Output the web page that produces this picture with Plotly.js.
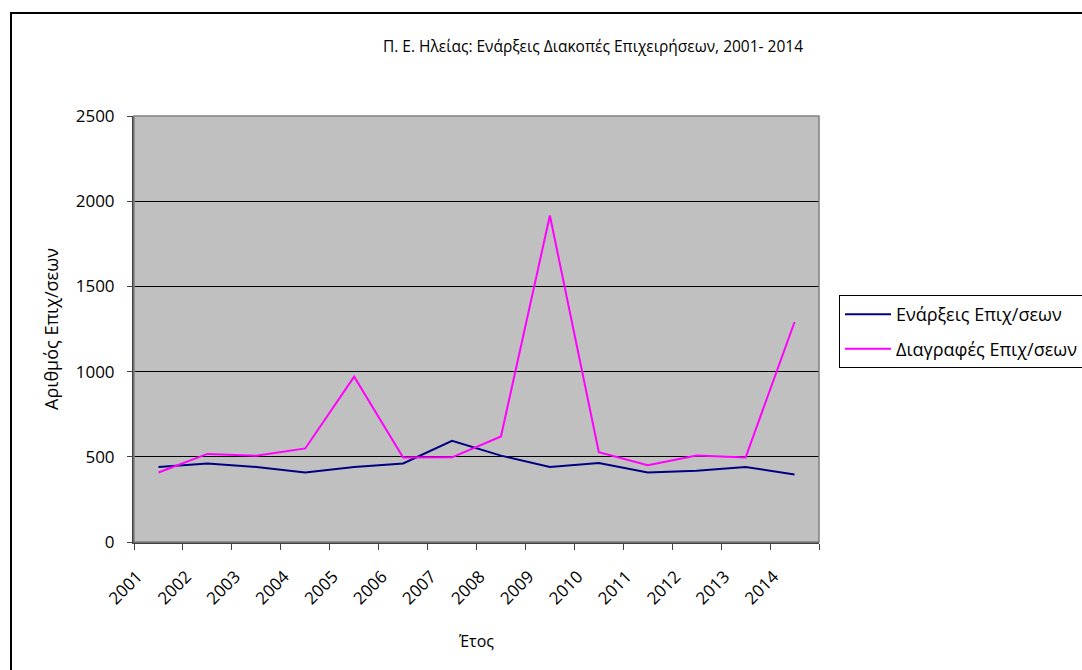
<!DOCTYPE html>
<html>
<head>
<meta charset="utf-8">
<script src="https://cdn.plot.ly/plotly-3.0.1.min.js"></script>
<style>
html,body{margin:0;padding:0;background:#fff;overflow:hidden;}
#chart{width:1082px;height:670px;}
#frame{position:absolute;left:10px;top:12px;width:1200px;height:800px;border:2px solid #000;box-sizing:border-box;pointer-events:none;}
</style>
</head>
<body>
<div id="chart"></div>
<div id="frame"></div>
<script>
const years = ['2001','2002','2003','2004','2005','2006','2007','2008','2009','2010','2011','2012','2013','2014'];
const enarxeis = [440, 461, 440, 408, 440, 461, 594, 507, 440, 463, 408, 418, 440, 396];
const diagrafes = [408, 517, 506, 549, 970, 496, 497, 619, 1916, 527, 451, 508, 496, 1291];
const seriesNames = ['Ενάρξεις Επιχ/σεων', 'Διαγραφές Επιχ/σεων'];
const titleText = 'Π. Ε. Ηλείας: Ενάρξεις Διακοπές Επιχειρήσεων, 2001- 2014';
const yTicks = [0, 500, 1000, 1500, 2000, 2500];

const FONT = '"Open Sans", "Noto Sans", sans-serif';

const traces = [
  {x: years, y: enarxeis, name: seriesNames[0], type: 'scatter', mode: 'lines',
   line: {color: '#000080', width: 2}, legendgroup: 'a'},
  {x: years, y: diagrafes, name: seriesNames[1], type: 'scatter', mode: 'lines',
   line: {color: '#FF00FF', width: 2}, legendgroup: 'b'}
];

const layout = {
  width: 1082, height: 670,
  margin: {l: 134, r: 263, t: 116, b: 128, autoexpand: false},
  paper_bgcolor: '#ffffff',
  plot_bgcolor: '#C0C0C0',
  font: {family: FONT, size: 17, color: '#000'},
  title: {text: titleText, font: {family: FONT, size: 15.5, color: '#000'},
          x: 593/1082, xanchor: 'center', xref: 'container', y: 1 - 47/670, yanchor: 'middle', yref: 'container'},
  showlegend: true,
  legend: {x: (839-134)/685, y: (542.3-295)/426.6, xanchor: 'left', yanchor: 'top',
           bordercolor: '#000', borderwidth: 1, bgcolor: '#fff',
           font: {family: FONT, size: 18}, traceorder: 'grouped', tracegroupgap: 8,
           itemwidth: 46},
  xaxis: {
    type: 'category', range: [-0.5, 13.5], tickson: 'boundaries', ticks: 'outside', ticklen: 6,
    tickcolor: '#404040', tickwidth: 1, tickangle: -45,
    ticklabelshift: -21, ticklabelstandoff: 16,
    showgrid: false, showline: true, linecolor: '#404040', linewidth: 2,
    mirror: false, zeroline: false, fixedrange: true,
    tickfont: {family: FONT, size: 17},
    title: {text: 'Έτος', font: {family: FONT, size: 16}, standoff: 28},
    automargin: false
  },
  yaxis: {
    range: [0, 2500], tickvals: yTicks, ticktext: yTicks.map(String),
    ticks: 'outside', ticklen: 5, tickcolor: '#404040', ticklabelstandoff: 9,
    showgrid: true, gridcolor: '#000', gridwidth: 1,
    showline: true, linecolor: '#404040', linewidth: 2, zeroline: false,
    tickfont: {family: FONT, size: 17},
    title: {text: 'Αριθμός Επιχ/σεων', font: {family: FONT, size: 18}, standoff: 12},
    automargin: false, fixedrange: true
  },
  shapes: [
    {type: 'rect', xref: 'paper', yref: 'paper', x0: 0, x1: 1, y0: 0, y1: 1,
     line: {color: '#808080', width: 1.5}, fillcolor: 'rgba(0,0,0,0)', layer: 'above'}
  ]
};

Plotly.newPlot('chart', traces, layout, {displayModeBar: false, staticPlot: true});
</script>
</body>
</html>
